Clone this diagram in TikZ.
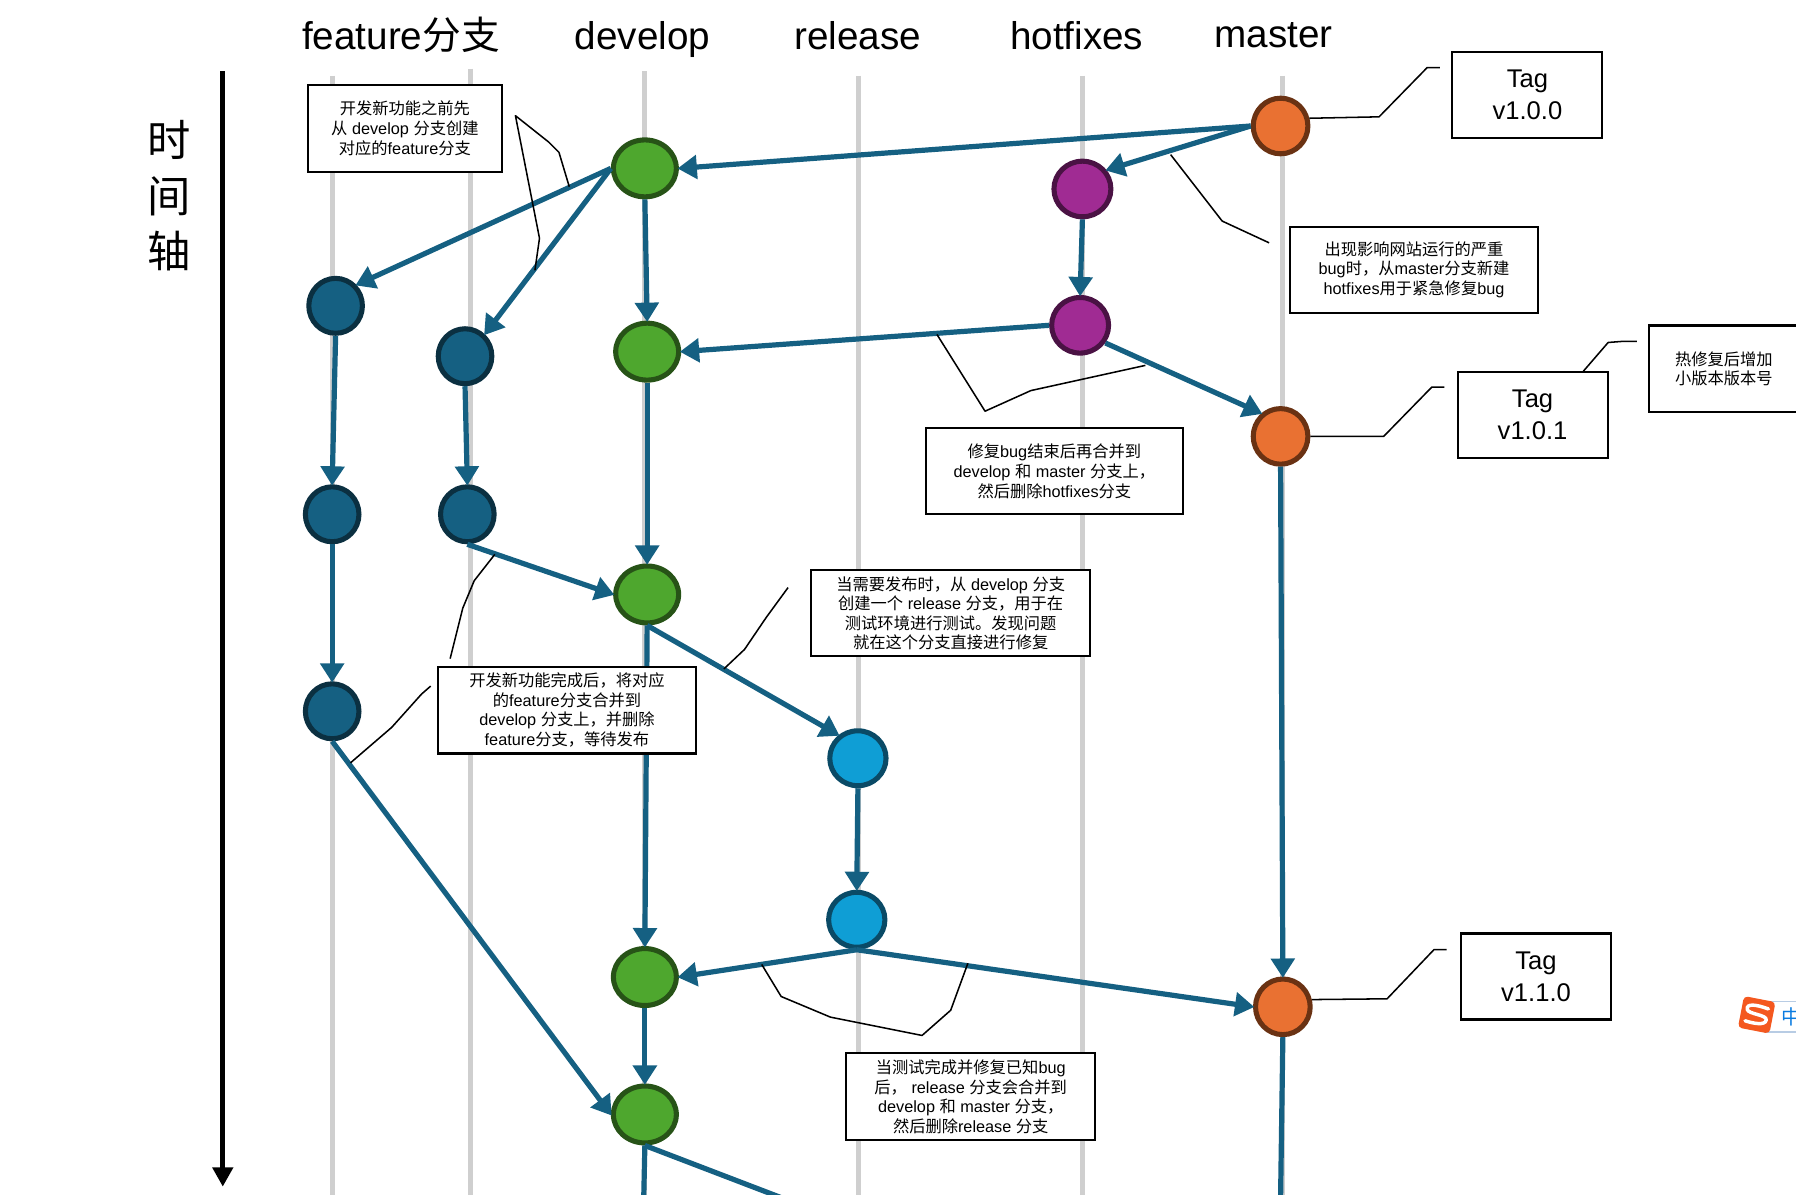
\documentclass[tikz,border=0pt]{standalone}
\usepackage{fontspec}
\setmainfont{Liberation Sans}
\newfontfamily\cjkf{Noto Sans CJK SC}
\usetikzlibrary{arrows.meta,shapes.geometric}
\newcommand{\C}[1]{{\cjkf #1}}
\definecolor{flow}{HTML}{156082}
\definecolor{rail}{HTML}{CFCFCF}
\definecolor{orangefill}{HTML}{E97132}
\definecolor{orangeline}{HTML}{6A3213}
\definecolor{purplefill}{HTML}{A02B93}
\definecolor{purpleline}{HTML}{4A1244}
\definecolor{greenfill}{HTML}{4EA72E}
\definecolor{greenline}{HTML}{275317}
\definecolor{navyline}{HTML}{0B3041}
\definecolor{skyfill}{HTML}{0F9ED5}
\definecolor{skyline}{HTML}{0A4A66}
\definecolor{badgeline}{HTML}{B8CCE4}
\definecolor{badgeblue}{HTML}{0A7BE0}
\definecolor{badgeorange}{HTML}{F4581F}
\tikzset{
  commit/.style={ellipse,draw,line width=3.8pt,inner sep=0pt,minimum width=41pt,minimum height=41.7pt},
  mastercommit/.style={commit,fill=orangefill,draw=orangeline},
  hotcommit/.style={commit,fill=purplefill,draw=purpleline,minimum width=42.7pt,minimum height=41.7pt},
  devcommit/.style={commit,fill=greenfill,draw=greenline,minimum width=47.2pt,minimum height=42.7pt},
  featcommit/.style={commit,fill=flow,draw=navyline,minimum width=40.2pt,minimum height=41.2pt},
  relcommit/.style={commit,fill=skyfill,draw=skyline,minimum width=42.2pt,minimum height=41.2pt},
  railline/.style={rail,line width=3.8pt},
  link/.style={flow,line width=3.9pt,-{Triangle[length=14.5pt,width=17.5pt]},shorten >=-1pt},
  tail/.style={flow,line width=3.9pt},
  callout/.style={black,line width=1.15pt,line join=round},
  boxbase/.style={draw=black,fill=white,line width=1.6pt,align=center,inner sep=0pt},
  notebox/.style={boxbase,font=\fontsize{12.2pt}{14.7pt}\selectfont,
    execute at begin node={\rule{0pt}{14.6pt}}},
  tagbox/.style={boxbase,minimum width=112.5pt,minimum height=64.5pt,
    font=\fontsize{19.2pt}{24pt}\selectfont},
  headline/.style={font=\fontsize{29pt}{32pt}\selectfont,inner sep=0pt,anchor=base},
  axischar/.style={font=\cjkf\fontsize{32.5pt}{36pt}\selectfont,inner sep=0pt},
}
\begin{document}
\begin{tikzpicture}[x=0.85906pt,y=-0.85906pt]
\useasboundingbox (0,0) rectangle (1568,1043.3);
\clip (0,0) rectangle (1568,1043.3);
% headings
\node[headline] (hfeat) at (350,43) {feature\C{分支}};
\node[headline] (hdev) at (561,43) {develop};
\node[headline] (hrel) at (749,43) {release};
\node[headline] (hhot) at (940,43) {hotfixes};
\node[headline] (hmas) at (1112,41.5) {master};
\node[axischar] (t1) at (148,122) {时};
\node[axischar] (t2) at (148,171) {间};
\node[axischar] (t3) at (148,219.5) {轴};
% time axis
\coordinate (axtop) at (194.5,62);
\coordinate (axbot) at (194.5,1036);
\draw[black,line width=3.6pt,-{Triangle[length=14.5pt,width=15pt]}] (axtop) -- (axbot);
% rails
\draw[railline] (290.5,66) -- (290.5,1043.3);
\draw[railline] (410.5,60) -- (410.5,1043.3);
\draw[railline] (562.5,62) -- (562.5,1043.3);
\draw[railline] (749.5,66) -- (749.5,1043.3);
\draw[railline] (945,66) -- (945,1043.3);
\draw[railline] (1119.5,66) -- (1119.5,1043.3);
% commits
\node[mastercommit] (m1) at (1118,110) {};
\node[mastercommit] (m2) at (1118,381) {};
\node[mastercommit] (m3) at (1120,879) {};
\node[hotcommit] (h1) at (945,165) {};
\node[hotcommit] (h2) at (943,284) {};
\node[devcommit] (d1) at (563,147) {};
\node[devcommit] (d2) at (565,307) {};
\node[devcommit] (d3) at (565,519) {};
\node[devcommit] (d4) at (563,853) {};
\node[devcommit] (d5) at (563,973) {};
\node[featcommit] (f1) at (293,267) {};
\node[featcommit] (f2) at (290,449) {};
\node[featcommit] (f3) at (290,621) {};
\node[featcommit] (g1) at (406,311) {};
\node[featcommit] (g2) at (408,449) {};
\node[relcommit] (r1) at (749,662) {};
\node[relcommit] (r2) at (748,803) {};
% connectors
\draw[link] (m1.west) -- (d1.east);
\draw[link] (m1.west) -- (h1.38);
\draw[link] (d1.west) -- (f1.45);
\draw[link] (d1.west) -- (g1.48);
\draw[link] (d1.south) -- (d2.north);
\draw[link] (h1.south) -- (h2.north);
\draw[link] (h2.west) -- (d2.east);
\draw[link] (h2.-35) -- (m2.130);
\draw[link] (f1.south) -- (f2.north);
\draw[link] (f2.south) -- (f3.north);
\draw[link] (g1.south) -- (g2.north);
\draw[link] (g2.south) -- (d3.west);
\draw[link] (d2.south) -- (d3.north);
\draw[link] (d3.south) -- (r1.130);
\draw[link] (d3.south) -- (d4.north);
\draw[link] (r1.south) -- (r2.north);
\draw[link] (r2.south) -- (d4.east);
\draw[link] (r2.south) -- (m3.west);
\draw[link] (m2.south) -- (m3.north);
\draw[link] (f3.south) -- (d5.west);
\draw[link] (d4.south) -- (d5.north);
\coordinate (e1) at (562,1046);
\coordinate (e2) at (683,1046);
\coordinate (e3) at (1118,1046);
\draw[tail] (d5.south) -- (e1);
\draw[tail] (d5.south) -- (e2);
\draw[tail] (m3.south) -- (e3);
% boxes
\node[notebox,minimum width=146pt,minimum height=65pt] (b1) at (353.5,112) {\C{开发新功能之前先}\\\C{从} develop \C{分支创建}\\\C{对应的}feature\C{分支}};
\node[tagbox] (b2) at (1333.5,83) {Tag\\v1.0.0};
\node[notebox,minimum width=186pt,minimum height=64.5pt] (b3) at (1234.5,235.5) {\C{出现影响网站运行的严重}\\bug\C{时，从}master\C{分支新建}\\hotfixes\C{用于紧急修复}bug};
\node[tagbox] (b4) at (1338,362.5) {Tag\\v1.0.1};
\node[notebox,minimum width=112pt,minimum height=65pt] (b5) at (1505,322) {\C{热修复后增加}\\\C{小版本版本号}};
\node[notebox,minimum width=193pt,minimum height=64.5pt] (b6) at (920.5,411.5) {\C{修复}bug\C{结束后再合并到}\\develop \C{和} master \C{分支上，}\\\C{然后删除}hotfixes\C{分支}};
\node[notebox,minimum width=209.5pt,minimum height=64.5pt] (b7) at (830,535.5) {\C{当需要发布时，从} develop \C{分支}\\\C{创建一个} release \C{分支，用于在}\\\C{测试环境进行测试。发现问题}\\\C{就在这个分支直接进行修复}};
\node[notebox,minimum width=194pt,minimum height=65pt] (b8) at (495,620) {\C{开发新功能完成后，将对应}\\\C{的}feature\C{分支合并到}\\develop \C{分支上，并删除}\\feature\C{分支，等待发布}};
\node[tagbox] (b9) at (1341,852.5) {Tag\\v1.1.0};
\node[notebox,minimum width=186.5pt,minimum height=65pt] (b10) at (847.5,957.5) {\C{当测试完成并修复已知}bug\\\C{后，} release \C{分支会合并到}\\develop \C{和} master \C{分支，}\\\C{然后删除}release \C{分支}};
% callouts
\draw[callout] (497,163) -- (488,133) -- (479,124) -- (450,101) -- (471,208) -- (467,236);
\draw[callout] (m1.15) -- (1204,102) -- (1246,59) -- (1257,59);
\draw[callout] (1022,135) -- (1067,193) -- (1108,212);
\draw[callout] (m2.east) -- (1208,381) -- (1250,338) -- (1261,338);
\draw[callout] (b4.north east) ++(-22,0) -- (1404,299) -- (1417,298) -- (1429,298);
\draw[callout] (818,292) -- (860,359) -- (900,341) -- (1000,319);
\draw[callout] (432,484) -- (414,507) -- (404,531) -- (393,575);
\draw[callout] (632,584) -- (650,567) -- (669,539) -- (688,513);
\draw[callout] (306,666) -- (342,635) -- (368,606) -- (376,599);
\draw[callout] (665,842) -- (682,870) -- (725,888) -- (805,904) -- (830,882) -- (845,841);
\draw[callout] (m3.14) -- (1211,872) -- (1252,829) -- (1263,829);
% input-method badge
\draw[badgeline,line width=1pt] (1540,874.5) -- (1568,874.5) (1540,901) -- (1568,901);
\node[inner sep=0pt,text=badgeblue,font=\cjkf\fontsize{15pt}{16pt}\selectfont] (zh) at (1564,887.5) {中};
\begin{scope}[shift={(1533.7,886)},rotate=-11]
\fill[badgeorange,rounded corners=3pt] (-14,-14) rectangle (14,14);
\draw[white,line width=2.6pt,line cap=round] (9,-7) .. controls (-3,-9) and (-11,-8) .. (-9,-3) .. controls (-7,1) and (9,-2) .. (9,3) .. controls (9,8) and (-2,8) .. (-9,7);
\end{scope}
\end{tikzpicture}
\end{document}
